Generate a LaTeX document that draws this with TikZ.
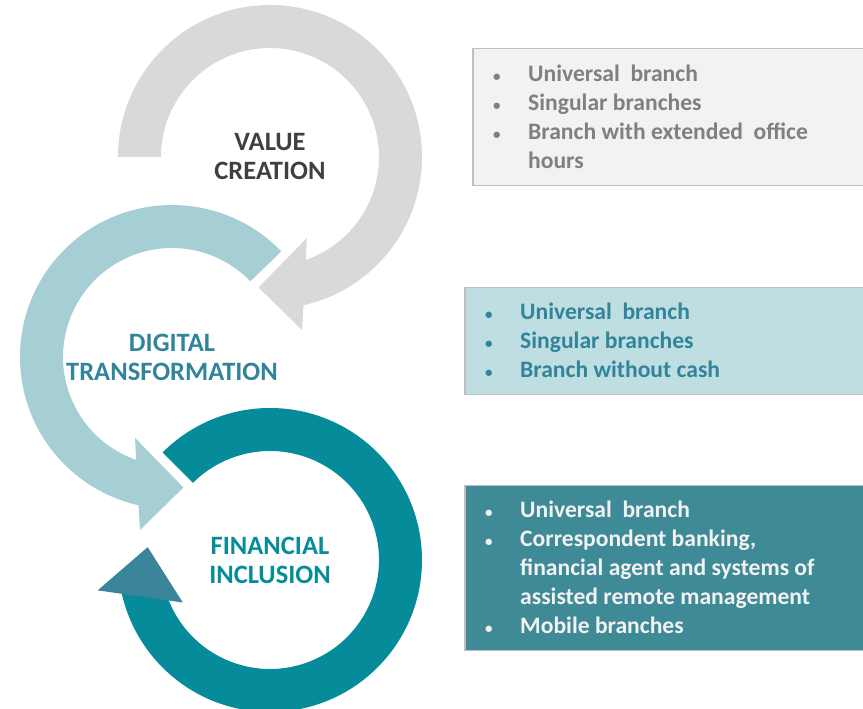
\documentclass[tikz,border=0pt]{standalone}
\usepackage{fontspec}
\setmainfont{Carlito}
\usepackage{xcolor}
\usepackage{tikz}
\definecolor{ringgray}{HTML}{D9D9D9}
\definecolor{ringlight}{HTML}{A5CED5}
\definecolor{ringdark}{HTML}{058B9A}
\definecolor{headdark}{HTML}{3A8599}
\definecolor{titlegray}{HTML}{404040}
\definecolor{titleteal}{HTML}{31849B}
\definecolor{titledark}{HTML}{078C99}
\definecolor{boxgray}{HTML}{F2F2F2}
\definecolor{boxlight}{HTML}{BEDEE1}
\definecolor{boxdark}{HTML}{3F8A97}
\definecolor{boxline}{HTML}{BFBFBF}
\definecolor{textgray}{HTML}{808080}
\definecolor{textlight}{HTML}{F2F2F2}

\newcommand{\bul}{{\fontsize{15}{15}\selectfont\textbullet}}

\begin{document}
\begin{tikzpicture}[x=1pt,y=1pt,
    title/.style={align=center,font=\fontsize{26.5}{29}\selectfont\bfseries},
    infobox/.style={draw=boxline,line width=1.5,anchor=north west,minimum width=420,inner sep=0},
    itemlist/.style={anchor=base west,inner sep=0,font=\fontsize{23.6}{29}\selectfont\bfseries}]
\useasboundingbox (0,0) rectangle (863,709);

% Value creation: grey ring, clockwise
\fill[ringgray,shift={(270,552)}] (180:152) arc[start angle=180,end angle=-77.3,radius=152]
  -- (-79.5:176) -- (-95:131) -- (-65.5:89) -- (-70.8:109)
  arc[start angle=-70.8,end angle=180,radius=109] -- cycle;
\node[title,text=titlegray] (value) at (270,552) {VALUE\\CREATION};

% Digital transformation: light ring, counter clockwise
\fill[ringlight,shift={(172,352)}] (44:152) arc[start angle=44,end angle=257.3,radius=152]
  -- (259.5:176) -- (275:131) -- (245.5:89) -- (250.8:109)
  arc[start angle=250.8,end angle=44,radius=109] -- cycle;
\node[title,text=titleteal] (digital) at (172,352) {DIGITAL\\TRANSFORMATION};

% Financial inclusion: dark ring with its own head
\fill[ringdark,shift={(270,149)}] (135:152) arc[start angle=135,end angle=-169,radius=152]
  -- (-160:109) arc[start angle=-160,end angle=135,radius=109] -- cycle;
\fill[headdark,shift={(270,149)}] (190:175) -- (174:123) -- (206:97) -- cycle;
\node[title,text=titledark] (financial) at (270,149) {FINANCIAL\\INCLUSION};

% Boxes on the right
\node[infobox,fill=boxgray,minimum height=137] (box1) at (472,661) {};
\node[itemlist,text=textgray] (list1) at (493,627) {%
  \begin{tabular}[t]{@{}p{35pt}@{}l@{}}
  \bul & Universal\ \ branch\\
  \bul & Singular branches\\
  \bul & Branch with extended\ \ office\\
       & hours
  \end{tabular}};

\node[infobox,fill=boxlight,minimum height=107] (box2) at (464,422) {};
\node[itemlist,text=titleteal] (list2) at (485,389) {%
  \begin{tabular}[t]{@{}p{35pt}@{}l@{}}
  \bul & Universal\ \ branch\\
  \bul & Singular branches\\
  \bul & Branch without cash
  \end{tabular}};

\node[infobox,fill=boxdark,minimum height=165] (box3) at (464,224) {};
\node[itemlist,text=textlight] (list3) at (485,191) {%
  \begin{tabular}[t]{@{}p{35pt}@{}l@{}}
  \bul & Universal\ \ branch\\
  \bul & Correspondent banking,\\
       & financial agent and systems of\\
       & assisted remote management\\
  \bul & Mobile branches
  \end{tabular}};
\end{tikzpicture}
\end{document}
